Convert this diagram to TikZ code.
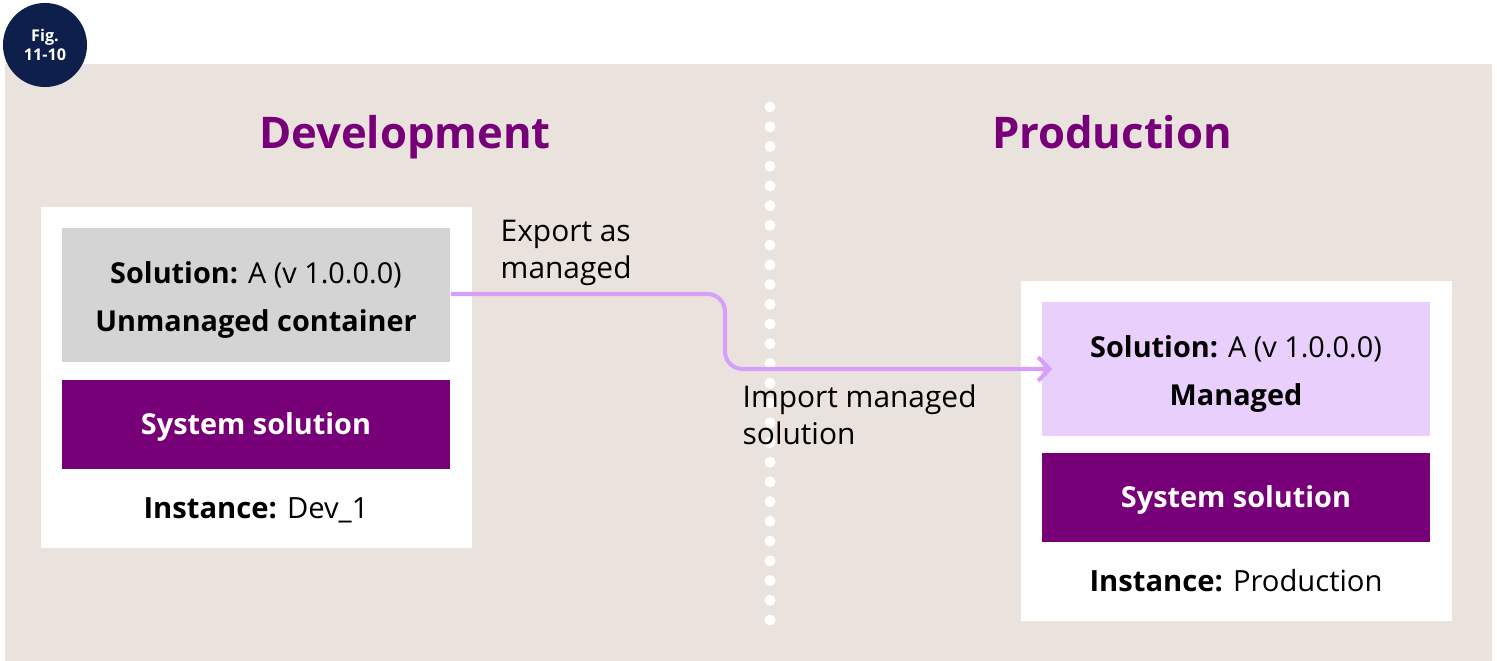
\documentclass[tikz,border=0pt]{standalone}
\usepackage{fontspec}
\setmainfont{Open Sans}
\usepackage{tikz}
\usetikzlibrary{arrows.meta, positioning, calc}
\definecolor{sandbg}{RGB}{234,227,221}
\definecolor{badgenavy}{RGB}{15,31,75}
\definecolor{plum}{RGB}{119,0,120}
\definecolor{unmgray}{RGB}{212,212,212}
\definecolor{lilac}{RGB}{233,207,252}
\definecolor{flowlilac}{RGB}{214,160,250}

\begin{document}
\begin{tikzpicture}[x=0.01cm, y=-0.01cm,
    panel/.style={fill=white, minimum width=4.31cm, inner sep=0pt},
    solbox/.style={minimum width=3.88cm, minimum height=1.34cm, inner sep=0pt, align=center, font=\fontsize{8.2}{10}\selectfont},
    sysbox/.style={fill=plum, minimum width=3.88cm, minimum height=0.89cm, inner sep=0pt, text=white,
        text height=5.9pt, text depth=0pt, font=\fontsize{8.2}{10}\selectfont\bfseries},
    inst/.style={font=\fontsize{8.3}{10}\selectfont, inner sep=0pt, text height=5.9pt, text depth=0pt},
    heading/.style={font=\fontsize{12.4}{15}\selectfont\bfseries, text=plum, inner sep=0pt, anchor=base},
    note/.style={font=\fontsize{8.5}{10.6}\selectfont, align=left, inner sep=0pt},
    flow/.style={draw=flowlilac, line width=1.15pt, rounded corners=5pt, -{Straight Barb[length=3.2pt, width=6.8pt, line width=1.15pt]}}]
    \useasboundingbox (0,0) rectangle (1497,661);
    \fill[sandbg] (5,64) rectangle (1492,661);

    % Figure badge
    \node[circle, fill=badgenavy, minimum size=0.84cm, inner sep=0pt, text=white, align=center,
          font=\fontsize{4.6}{5.4}\selectfont\bfseries] (badge) at (45,45) {Fig.\\11-10};

    % Dotted divider
    \foreach \k in {0,...,26} {
        \fill[white] (770,{107+\k*19.73}) circle (0.055cm);
    }

    % Headings
    \node[heading] (devhead) at (405,149) {Development};
    \node[heading] (prodhead) at (1112,149) {Production};

    % Development instance
    \node[panel, minimum height=3.41cm] (devpanel) at (256.5,377.5) {};
    \node[solbox, fill=unmgray] (devsol) at (256,295)
        {\rule{0pt}{9.1pt}\textbf{Solution:} A (v 1.0.0.0)\\[3.6pt]\textbf{Unmanaged container}};
    \node[sysbox] (devsys) at (256,424.5) {System solution};
    \node[inst] (devinst) at (256,508) {\textbf{Instance:} Dev\_1};

    % Production instance
    \node[panel, minimum height=3.40cm] (prodpanel) at (1236.5,451) {};
    \node[solbox, fill=lilac] (prodsol) at (1236,369)
        {\rule{0pt}{9.1pt}\textbf{Solution:} A (v 1.0.0.0)\\[3.6pt]\textbf{Managed}};
    \node[sysbox] (prodsys) at (1236,497.5) {System solution};
    \node[inst] (prodinst) at (1236,581) {\textbf{Instance:} Production};

    % Export / import flow
    \coordinate (turn) at (725,330);
    \draw[flow] (devsol.east |- 0,294) -| (turn) |- ([xshift=0.11cm]prodsol.west);
    \node[note, anchor=west] (exportlbl) at (500,253) {Export as\\managed};
    \node[note, anchor=west] (importlbl) at (742,415) {Import managed\\solution};
\end{tikzpicture}
\end{document}
